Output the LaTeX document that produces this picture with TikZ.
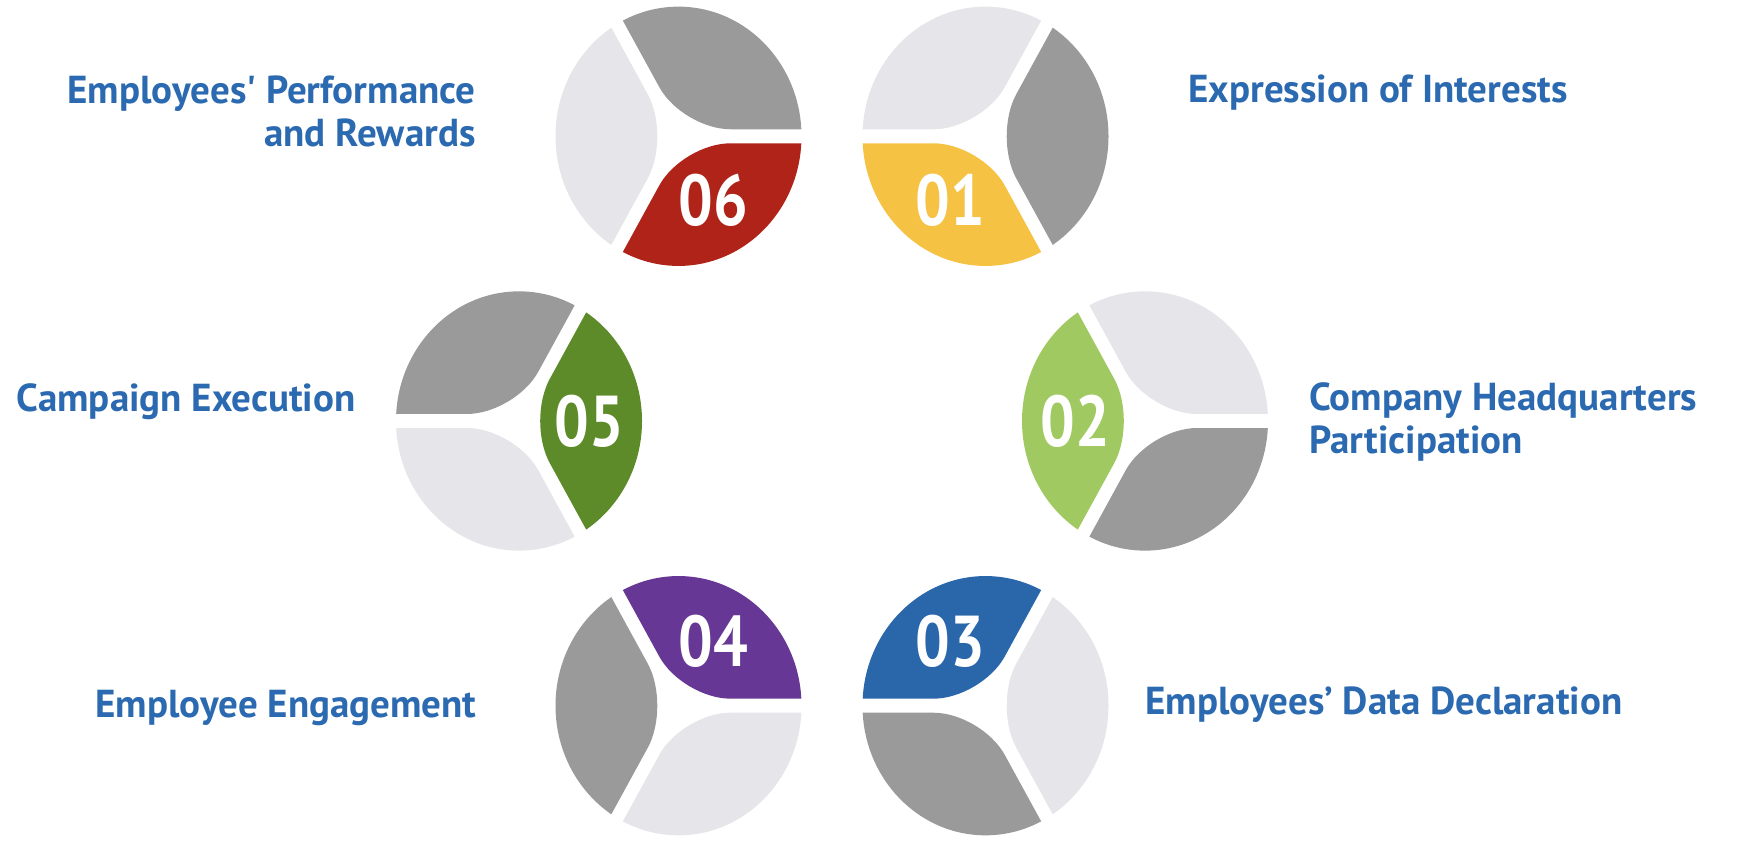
\documentclass[tikz,border=0pt]{standalone}
\usepackage{fontspec}
\setmainfont{PT Sans}
\usetikzlibrary{calc}

\definecolor{labelblue}{HTML}{2B69B0}
\definecolor{discdark}{HTML}{9A9A9A}
\definecolor{disclight}{HTML}{E5E5EA}
\definecolor{discyellow}{HTML}{F5C243}
\definecolor{disclime}{HTML}{A1C962}
\definecolor{discblue}{HTML}{2A66AA}
\definecolor{discpurple}{HTML}{673795}
\definecolor{discgreen}{HTML}{5E8B2A}
\definecolor{discred}{HTML}{AF2318}

% one disc: centre, first ray, three wedge colours
\newcommand\disc[5]{%
  \begin{scope}[shift={(#1)}, yscale=1.054]
    \clip (0,0) circle (123);
    \foreach \a/\c in {#2/#3, #2+120/#4, #2+240/#5}
      \fill[\c, rounded corners=24pt] ($(\a+60:7.7)+(\a:400)$) -- (\a+60:7.7) -- ($(\a+60:7.7)+(\a+120:400)$) -- cycle;
  \end{scope}}

\begin{document}
\begin{tikzpicture}[x=0.5pt, y=0.5pt,
    desc/.style={text=labelblue, font=\fontsize{19.5}{21.5}\selectfont\bfseries, inner sep=0pt},
    num/.style={text=white, font=\fontsize{36}{36}\selectfont\bfseries, inner sep=0pt}
]
\useasboundingbox (0,0) rectangle (1749,855);

% Centres
\coordinate (c01) at (985.5,718.7);
\coordinate (c02) at (1145,434);
\coordinate (c03) at (985.5,149.3);
\coordinate (c04) at (678.5,149.3);
\coordinate (c05) at (519,434);
\coordinate (c06) at (678.5,718.7);

% Discs
\disc{c01}{60}{disclight}{discyellow}{discdark}
\disc{c02}{0}{disclight}{disclime}{discdark}
\disc{c03}{60}{discblue}{discdark}{disclight}
\disc{c04}{0}{discpurple}{discdark}{disclight}
\disc{c05}{60}{discdark}{disclight}{discgreen}
\disc{c06}{0}{discdark}{disclight}{discred}

% Numbers
\node[num] (n01) at ($(c01)+(240:70 and 74)$) {\scalebox{0.85}[1]{01}};
\node[num] (n02) at ($(c02)+(180:70 and 74)$) {\scalebox{0.85}[1]{02}};
\node[num] (n03) at ($(c03)+(120:70 and 74)$) {\scalebox{0.85}[1]{03}};
\node[num] (n04) at ($(c04)+(60:70 and 74)$) {\scalebox{0.85}[1]{04}};
\node[num] (n05) at ($(c05)+(0:70 and 74)$) {\scalebox{0.85}[1]{05}};
\node[num] (n06) at ($(c06)+(300:70 and 74)$) {\scalebox{0.85}[1]{06}};

% Texts
\node[desc, anchor=base west] (t01) at (1188,752) {Expression of Interests};
\node[desc, anchor=base west, align=left] (t02) at (1309,401) {Company Headquarters\\Participation};
\node[desc, anchor=base west] (t03) at (1145,140) {Employees’ Data Declaration};
\node[desc, anchor=base east] (t04) at (477,137) {Employee Engagement};
\node[desc, anchor=base east] (t05) at (356,443) {Campaign Execution};
\node[desc, anchor=base east, align=right] (t06) at (476,708) {Employees\textquotesingle{} Performance\\and Rewards};

\end{tikzpicture}
\end{document}
